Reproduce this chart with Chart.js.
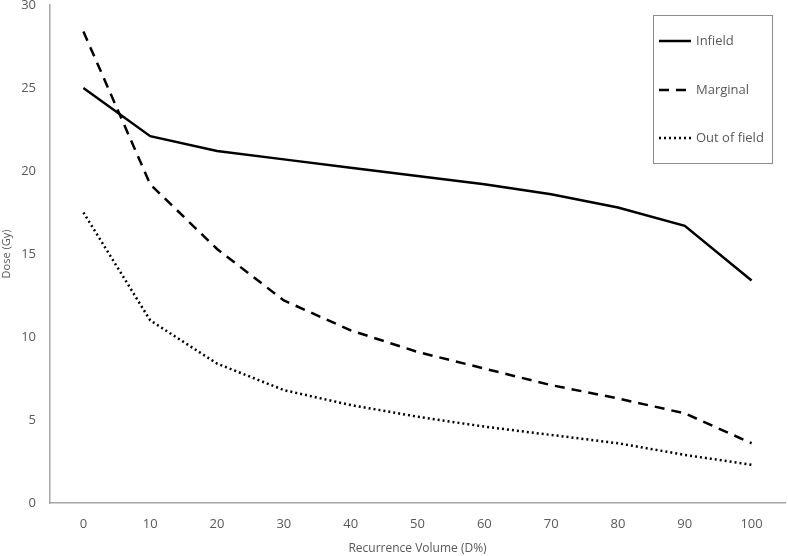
<!DOCTYPE html>
<html>
<head>
<meta charset="utf-8">
<script src="https://cdn.jsdelivr.net/npm/chart.js@4"></script>
<style>
  html, body { margin: 0; padding: 0; background: #fff; }
  #wrap { width: 788px; height: 556px; }
</style>
</head>
<body>
<div id="wrap"><canvas id="grafico" width="788" height="556"></canvas></div>
<script>
// ===== Data =====
const volumes = ['0', '10', '20', '30', '40', '50', '60', '70', '80', '90', '100'];
const infield = [25.0, 22.1, 21.2, 20.7, 20.2, 19.7, 19.2, 18.6, 17.8, 16.7, 13.4];
const marginal = [28.4, 19.2, 15.3, 12.2, 10.4, 9.1, 8.1, 7.1, 6.3, 5.4, 3.6];
const outOfField = [17.5, 11.0, 8.4, 6.8, 5.9, 5.2, 4.6, 4.1, 3.6, 2.9, 2.3];
const yTicks = [0, 5, 10, 15, 20, 25, 30];

const FONT = "'Open Sans', 'Liberation Sans', sans-serif";
const GRAY = '#595959';

// ===== Legend com borda (estilo Excel) =====
const legendaBox = {
  id: 'legendaBox',
  afterDraw(chart) {
    const ctx = chart.ctx;
    const x = 653, y = 15, w = 119, h = 148;
    ctx.save();
    ctx.strokeStyle = '#8c8c8c';
    ctx.lineWidth = 1;
    ctx.strokeRect(x + 0.5, y + 0.5, w, h);

    const rows = [41, 90, 138];
    chart.data.datasets.forEach((ds, i) => {
      const ly = rows[i];
      ctx.strokeStyle = '#000';
      ctx.lineWidth = ds.borderWidth;
      ctx.setLineDash(ds.borderDash || []);
      ctx.beginPath();
      ctx.moveTo(659, ly);
      ctx.lineTo(691, ly);
      ctx.stroke();
      ctx.setLineDash([]);
      ctx.fillStyle = GRAY;
      ctx.font = '13px ' + FONT;
      ctx.textBaseline = 'middle';
      ctx.fillText(ds.label, 696, ly);
    });
    ctx.restore();
  }
};

function criarGrafico() {
  return new Chart(document.getElementById('grafico'), {
    type: 'line',
    data: {
      labels: volumes,
      datasets: [
        { label: 'Infield', data: infield, borderColor: '#000', borderWidth: 2.5, pointRadius: 0, tension: 0 },
        { label: 'Marginal', data: marginal, borderColor: '#000', borderWidth: 2.5, borderDash: [10, 7], pointRadius: 0, tension: 0 },
        { label: 'Out of field', data: outOfField, borderColor: '#000', borderWidth: 2.5, borderDash: [2, 3], pointRadius: 0, tension: 0 }
      ]
    },
    options: {
      responsive: false,
      animation: false,
      layout: { padding: { left: 0, top: 5, right: 3, bottom: 0 } },
      plugins: {
        legend: { display: false },
        tooltip: { enabled: false }
      },
      scales: {
        x: {
          offset: true,
          grid: { display: false, drawTicks: false },
          border: { color: '#a6a6a6', width: 1.5 },
          ticks: { color: GRAY, font: { family: FONT, size: 13 }, padding: 13, maxRotation: 0 },
          title: { display: true, text: 'Recurrence Volume (D%)', color: GRAY, font: { family: FONT, size: 12 }, padding: { top: 2, bottom: 0 } },
          afterFit: (s) => { s.height = 53; s.paddingLeft = 0; s.paddingRight = 0; }
        },
        y: {
          min: 0,
          max: 30,
          afterBuildTicks: (s) => { s.ticks = yTicks.map(v => ({ value: v })); },
          grid: { display: false, drawTicks: false },
          border: { color: '#a6a6a6', width: 1.5 },
          ticks: { color: GRAY, font: { family: FONT, size: 13 }, padding: 14 },
          title: { display: true, text: 'Dose (Gy)', color: GRAY, font: { family: FONT, size: 11 }, padding: { top: 0, bottom: 0 } },
          afterFit: (s) => { s.width = 50; s.paddingTop = 0; s.paddingBottom = 0; }
        }
      }
    },
    plugins: [legendaBox]
  });
}

criarGrafico();
</script>
</body>
</html>
